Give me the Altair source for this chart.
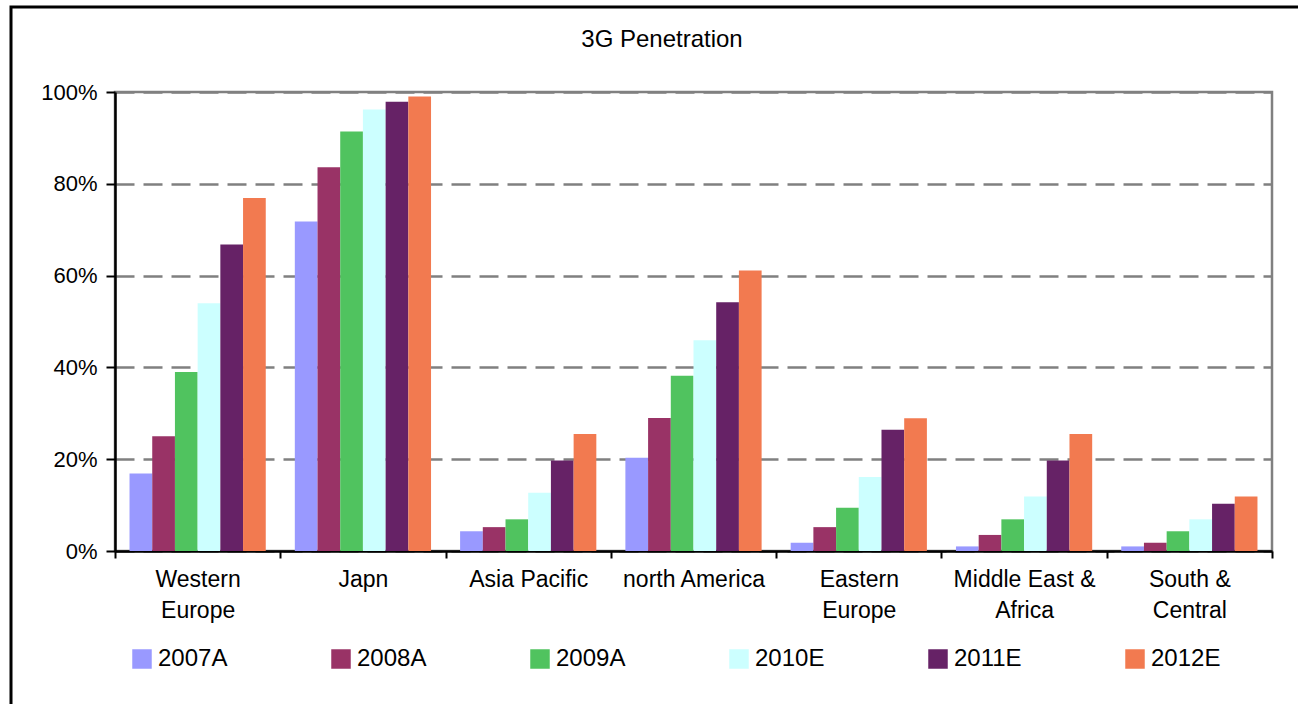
import altair as alt
import pandas as pd

# Regions (line breaks mark the two-line axis labels) and forecast years
regions = [
    "Western\nEurope",
    "Japn",
    "Asia Pacific",
    "north America",
    "Eastern\nEurope",
    "Middle East &\nAfrica",
    "South &\nCentral",
]
years = ["2007A", "2008A", "2009A", "2010E", "2011E", "2012E"]
colors = ["#9999FF", "#993366", "#50C35F", "#CCFFFF", "#662266", "#F27A50"]
chart_title = "3G Penetration"

# 3G penetration (%) per region, one list per year
pen_2007A = [16.9, 71.8, 4.3, 20.3, 1.8, 1.0, 1.0]
pen_2008A = [25.0, 83.6, 5.2, 29.0, 5.2, 3.5, 1.8]
pen_2009A = [39.0, 91.4, 6.9, 38.2, 9.4, 6.9, 4.3]
pen_2010E = [54.0, 96.2, 12.7, 45.9, 16.1, 11.9, 6.9]
pen_2011E = [66.8, 97.9, 19.7, 54.2, 26.4, 19.7, 10.3]
pen_2012E = [76.9, 99.0, 25.5, 61.1, 28.9, 25.5, 11.9]

y_ticks = [0, 20, 40, 60, 80, 100]

series = [pen_2007A, pen_2008A, pen_2009A, pen_2010E, pen_2011E, pen_2012E]
rows = []
for year, vals in zip(years, series):
    for region, v in zip(regions, vals):
        rows.append({"Region": region, "Year": year, "Penetration": v})
df = pd.DataFrame(rows)

FONT = "Liberation Sans"

bars = (
    alt.Chart(df)
    .mark_bar(strokeWidth=0)
    .encode(
        x=alt.X(
            "Region:N",
            sort=regions,
            scale=alt.Scale(paddingInner=0, paddingOuter=0),
            axis=alt.Axis(
                title=None,
                labelAngle=0,
                labelExpr="split(datum.label, '\\n')",
                labelFont=FONT,
                labelFontSize=23,
                labelColor="#000000",
                labelLineHeight=31,
                labelPadding=10,
                labelBaseline="top",
                tickBand="extent",
                tickSize=7,
                tickWidth=2,
                tickColor="#000000",
                domainColor="#000000",
                domainWidth=2.5,
                grid=False,
            ),
        ),
        xOffset=alt.XOffset(
            "Year:N", sort=years, scale=alt.Scale(paddingInner=0, paddingOuter=0.64)
        ),
        y=alt.Y(
            "Penetration:Q",
            scale=alt.Scale(domain=[0, 100], nice=False),
            axis=alt.Axis(
                title=None,
                values=y_ticks,
                labelExpr="datum.value + '%'",
                labelFont=FONT,
                labelFontSize=22,
                labelColor="#000000",
                labelPadding=9,
                tickSize=9,
                tickWidth=2,
                tickColor="#000000",
                domainColor="#000000",
                domainWidth=2.5,
                grid=True,
                gridColor="#808080",
                gridWidth=2.5,
                gridDash=[19, 9],
            ),
        ),
        color=alt.Color(
            "Year:N",
            sort=years,
            scale=alt.Scale(domain=years, range=colors),
            legend=alt.Legend(
                title=None,
                orient="none",
                legendX=15,
                legendY=555,
                direction="horizontal",
                symbolType="square",
                symbolSize=380,
                symbolStrokeWidth=0,
                labelFont=FONT,
                labelFontSize=24,
                labelColor="#000000",
                labelOffset=4,
                columnPadding=101,
                padding=0,
            ),
        ),
    )
)

# Outer border around the whole chart area
frame = (
    alt.Chart(alt.Data(values=[{}]))
    .mark_rect(fill=None, stroke="#000000", strokeWidth=3)
    .encode(
        x=alt.value(-104),
        x2=alt.value(1200),
        y=alt.value(-85),
        y2=alt.value(700),
    )
)

# Chart heading, set inside the outer border above the plot
heading = (
    alt.Chart(alt.Data(values=[{"label": chart_title}]))
    .mark_text(font=FONT, fontSize=24, color="#000000", align="center", baseline="middle")
    .encode(text="label:N", x=alt.value(547), y=alt.value(-52))
)

chart = (
    alt.layer(bars, frame, heading)
    .properties(
        width=1157,
        height=459,
        autosize=alt.AutoSizeParams(type="none"),
        padding={"left": 115, "top": 92, "right": 26, "bottom": 153},
        background="#FFFFFF",
    )
    .configure_view(stroke="#808080", strokeWidth=2.5)
)

chart.save("out.html", embed_options={"renderer": "svg", "actions": False})
